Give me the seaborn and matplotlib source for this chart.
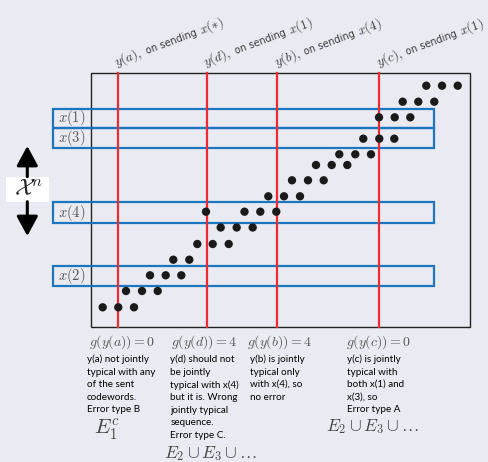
import matplotlib
matplotlib.use("Agg")
import numpy as np
import matplotlib.pyplot as plt
from matplotlib.patches import Rectangle, FancyArrowPatch
import seaborn as sns
import pandas as pd

# Received sequences y^n laid out along the rows, one row of dots per step
row_y = [307.3, 291.0, 275.3, 259.7, 244.0, 227.5, 211.7, 196.3,
         180.3, 165.0, 154.3, 138.7, 117.3, 101.7, 85.7]
row_x = [
    [102.7, 118.3, 134.0],
    [126.0, 142.0, 157.7],
    [150.0, 165.7, 181.3],
    [173.3, 189.3],
    [197.3, 212.7, 228.7],
    [220.7, 236.7, 252.7],
    [206.0, 244.5, 260.3, 276.3],
    [268.3, 284.0, 300.0],
    [292.0, 308.0, 323.7],
    [316.0, 331.7, 347.3],
    [339.3, 355.3, 371.0],
    [363.3, 379.3, 394.3],
    [379.0, 394.7, 410.3],
    [402.7, 418.3, 434.3],
    [426.3, 442.0, 457.7],
]

# Codeword bands (top, bottom) and their labels
codewords = ["x(1)", "x(3)", "x(4)", "x(2)"]
band_top = [109.0, 127.7, 202.3, 265.7]
band_bot = [127.7, 147.7, 223.0, 286.0]

# Received outputs: column positions and captions
outputs = ["a", "d", "b", "c"]
sent = ["*", "1", "4", "1"]
out_x = [118.0, 206.7, 277.3, 379.3]
g_values = [0, 4, 4, 0]
notes = [
    "y(a) not jointly\ntypical with any\nof the sent\ncodewords.\nError type B",
    "y(d) should not\nbe jointly\ntypical with x(4)\nbut it is. Wrong\njointly typical\nsequence.\nError type C.",
    "y(b) is jointly\ntypical only\nwith x(4), so\nno error",
    "y(c) is jointly\ntypical with\nboth x(1) and\nx(3), so\nError type A",
]
note_x = [87.0, 170.5, 250.5, 347.0]
g_x = [122.5, 204.5, 280.0, 378.5]

BG = "#EAEAF2"
BLUE = "#1b76bf"
RED = "#ee2a33"
INK = "#3a3a3a"

plt.rcParams["mathtext.fontset"] = "cm"

fig = plt.figure(figsize=(4.89, 4.62), dpi=100, facecolor=BG)
ax = fig.add_axes([0, 0, 1, 1])
ax.set_facecolor(BG)
ax.set_xlim(0, 489)
ax.set_ylim(462, 0)
renderer = fig.canvas.get_renderer()

# outer frame of the typical set grid
ax.add_patch(Rectangle((91, 73.3), 470 - 91, 327.3 - 73.3, fill=False,
                       edgecolor="#222222", lw=1.0, zorder=1))

# codeword bands
for lab, t, b in zip(codewords, band_top, band_bot):
    ax.add_patch(Rectangle((52.7, t), 434 - 52.7, b - t, fill=False,
                           edgecolor=BLUE, lw=1.6, zorder=2))
    ax.text(57.5, (t + b) / 2, "$" + lab + "$", ha="left", va="center",
            fontsize=10.5, color="#555555", zorder=3)


def slanted_label(x0, y0, pieces, angle=20.5):
    """Write text pieces one after another along a slanted baseline."""
    ca, sa = np.cos(np.radians(angle)), np.sin(np.radians(angle))
    dist = 0.0
    for txt, kw, gap in pieces:
        ax.text(x0 + dist * ca, y0 - dist * sa, txt, rotation=angle,
                rotation_mode="anchor", ha="left", va="baseline",
                color=INK, **kw)
        probe = ax.text(0, 0, txt, **kw)
        w = probe.get_window_extent(renderer).width
        probe.remove()
        dist += w + gap


math_kw = dict(fontsize=9.4)
sans_kw = dict(fontsize=7.0, family="DejaVu Sans")

# received outputs
for o, s, x in zip(outputs, sent, out_x):
    ax.plot([x, x], [73.3, 327.3], color=RED, lw=1.6, zorder=3)
    slanted_label(x - 1.5, 66, [
        (r"$y(%s),$" % o, math_kw, 5.0),
        ("on sending", sans_kw, 3.5),
        (r"$x(%s)$" % s, math_kw, 0.0),
    ])

# sequences
dots = pd.DataFrame({
    "x": [x for xs in row_x for x in xs],
    "y": [y for y, xs in zip(row_y, row_x) for _ in xs],
})
sns.scatterplot(data=dots, x="x", y="y", ax=ax, s=36, color="#1a1a1a",
                edgecolor="none", linewidth=0, zorder=4, legend=False)
ax.set_xlim(0, 489)
ax.set_ylim(462, 0)
ax.axis("off")

# X^n label with arrows
ax.add_patch(Rectangle((5.7, 176.7), 43, 25, facecolor="white",
                       edgecolor="none", zorder=2))
ax.text(28.5, 189, r"$\mathcal{X}^n$", ha="center", va="center",
        fontsize=17, color="#222222", zorder=3)
for y0, y1 in [(176.7, 146), (201.7, 236)]:
    ax.add_patch(FancyArrowPatch((27.3, y0), (27.3, y1),
                                 arrowstyle="-|>,head_length=12,head_width=6.5",
                                 color="black", lw=2.2, mutation_scale=1,
                                 shrinkA=0, shrinkB=0, zorder=3))

# captions under each output
for o, g, gx, nx, note in zip(outputs, g_values, g_x, note_x, notes):
    ax.text(gx, 342, r"$g(y(%s)) = %d$" % (o, g),
            ha="center", va="center", fontsize=10, color="#555555")
    ax.text(nx, 354.5, note, ha="left", va="top", fontsize=7.1,
            family="Lato", color="#000000", linespacing=1.5)

ax.text(107, 430, r"$E_1^c$", ha="center", va="center", fontsize=15,
        color="#444444")
ax.text(210, 454, r"$E_2 \cup E_3 \cup \ldots$", ha="center", va="center",
        fontsize=12.5, color="#444444")
ax.text(372, 427, r"$E_2 \cup E_3 \cup \ldots$", ha="center", va="center",
        fontsize=12.5, color="#444444")

fig.savefig("out.png", dpi=100, facecolor=BG)
